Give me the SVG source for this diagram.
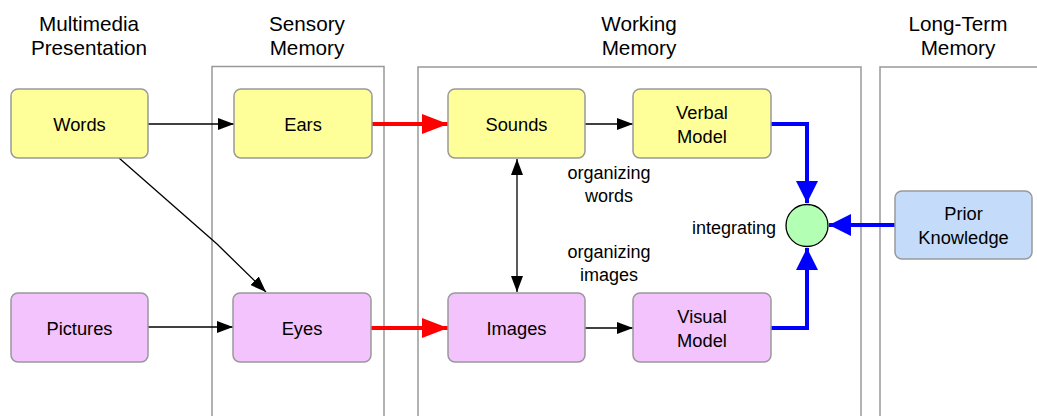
<svg xmlns="http://www.w3.org/2000/svg" width="1037" height="416" viewBox="0 0 1037 416">
<defs>
<style>
text{font-family:"Liberation Sans",Arial,sans-serif;fill:#000;text-anchor:middle}
.h{font-size:20.7px}
.n{font-size:18.3px}
.lbl{font-size:18px}
.cont{fill:none;stroke:#999;stroke-width:1.5}
.y{fill:#ffff99;stroke:#999;stroke-width:1.5}
.p{fill:#f2c3fc;stroke:#999;stroke-width:1.5}
.b{fill:#c4dcfa;stroke:#999;stroke-width:1.5}
.k{fill:none;stroke:#000;stroke-width:1.3}
.r{fill:none;stroke:#ff0000;stroke-width:4}
.bl{fill:none;stroke:#0000ff;stroke-width:4}
</style>
<marker id="ak" markerWidth="16" markerHeight="12" refX="16" refY="6" orient="auto" markerUnits="userSpaceOnUse"><path d="M0,0 L16,6 L0,12 Z" fill="#000"/></marker>
<marker id="aks" markerWidth="16" markerHeight="12" refX="16" refY="6" orient="auto-start-reverse" markerUnits="userSpaceOnUse"><path d="M0,0 L16,6 L0,12 Z" fill="#000"/></marker>
<marker id="ar" markerWidth="26" markerHeight="20" refX="26" refY="10" orient="auto" markerUnits="userSpaceOnUse"><path d="M0,0 L26,10 L0,20 Z" fill="#ff0000"/></marker>
<marker id="ab" markerWidth="24" markerHeight="22" refX="22" refY="11" orient="auto" markerUnits="userSpaceOnUse"><path d="M0,0 L22,11 L0,22 Z" fill="#0000ff"/></marker>
</defs>
<rect width="1037" height="416" fill="#fff"/>
<g id="headings">
<text class="h" x="89" y="31">Multimedia</text>
<text class="h" x="89" y="55">Presentation</text>
<text class="h" x="307" y="31">Sensory</text>
<text class="h" x="307" y="55">Memory</text>
<text class="h" x="639" y="31">Working</text>
<text class="h" x="639" y="55">Memory</text>
<text class="h" x="958" y="31">Long-Term</text>
<text class="h" x="958" y="55">Memory</text>
</g>
<g id="containers">
<rect class="cont" x="212" y="66.5" width="172" height="360"/>
<rect class="cont" x="418" y="67" width="443" height="360"/>
<rect class="cont" x="880" y="67" width="170" height="360"/>
</g>
<g id="connectors">
<line class="k" x1="148" y1="124" x2="234" y2="124" marker-end="url(#ak)"/>
<polyline class="k" points="119,158 217,244 266,292" marker-end="url(#ak)"/>
<line class="k" x1="148" y1="327" x2="233" y2="327" marker-end="url(#ak)"/>
<line class="r" x1="372" y1="124" x2="448" y2="124" marker-end="url(#ar)"/>
<line class="r" x1="371" y1="328" x2="448" y2="328" marker-end="url(#ar)"/>
<line class="k" x1="585" y1="124" x2="633" y2="124" marker-end="url(#ak)"/>
<line class="k" x1="585" y1="328" x2="633" y2="328" marker-end="url(#ak)"/>
<line class="k" x1="517" y1="159" x2="517" y2="292" marker-start="url(#aks)" marker-end="url(#aks)"/>
<polyline class="bl" points="771,124 807,124 807,203" marker-end="url(#ab)"/>
<polyline class="bl" points="771,328 807,328 807,248" marker-end="url(#ab)"/>
<line class="bl" x1="895" y1="225" x2="829" y2="225" marker-end="url(#ab)"/>
</g>
<g id="words"><rect class="y" x="11" y="89" width="137" height="69" rx="7"/><text class="n" x="79.5" y="130.5">Words</text></g>
<g id="pictures"><rect class="p" x="11" y="293" width="137" height="69" rx="7"/><text class="n" x="79.5" y="334.5">Pictures</text></g>
<g id="ears"><rect class="y" x="234" y="89" width="138" height="69" rx="7"/><text class="n" x="303" y="130.5">Ears</text></g>
<g id="eyes"><rect class="p" x="233" y="293" width="138" height="69" rx="7"/><text class="n" x="302" y="334.5">Eyes</text></g>
<g id="sounds"><rect class="y" x="448" y="89" width="137" height="69" rx="7"/><text class="n" x="516.5" y="130.5">Sounds</text></g>
<g id="images"><rect class="p" x="448" y="293" width="137" height="69" rx="7"/><text class="n" x="516.5" y="334.5">Images</text></g>
<g id="verbal-model"><rect class="y" x="633" y="89" width="138" height="69" rx="7"/><text class="n" x="702" y="119">Verbal</text><text class="n" x="702" y="143">Model</text></g>
<g id="visual-model"><rect class="p" x="633" y="293" width="138" height="69" rx="7"/><text class="n" x="702" y="323">Visual</text><text class="n" x="702" y="347">Model</text></g>
<g id="prior-knowledge"><rect class="b" x="895" y="191" width="137" height="68" rx="7"/><text class="n" x="963.5" y="220">Prior</text><text class="n" x="963.5" y="244">Knowledge</text></g>
<g id="integrating"><circle cx="807" cy="225.5" r="21" fill="#b3ffb3" stroke="#000" stroke-width="1.3"/></g>
<g id="labels">
<text class="lbl" x="609" y="179">organizing</text>
<text class="lbl" x="609" y="202">words</text>
<text class="lbl" x="609" y="258">organizing</text>
<text class="lbl" x="609" y="281">images</text>
<text class="lbl" x="776" y="234" style="text-anchor:end">integrating</text>
</g>
</svg>
